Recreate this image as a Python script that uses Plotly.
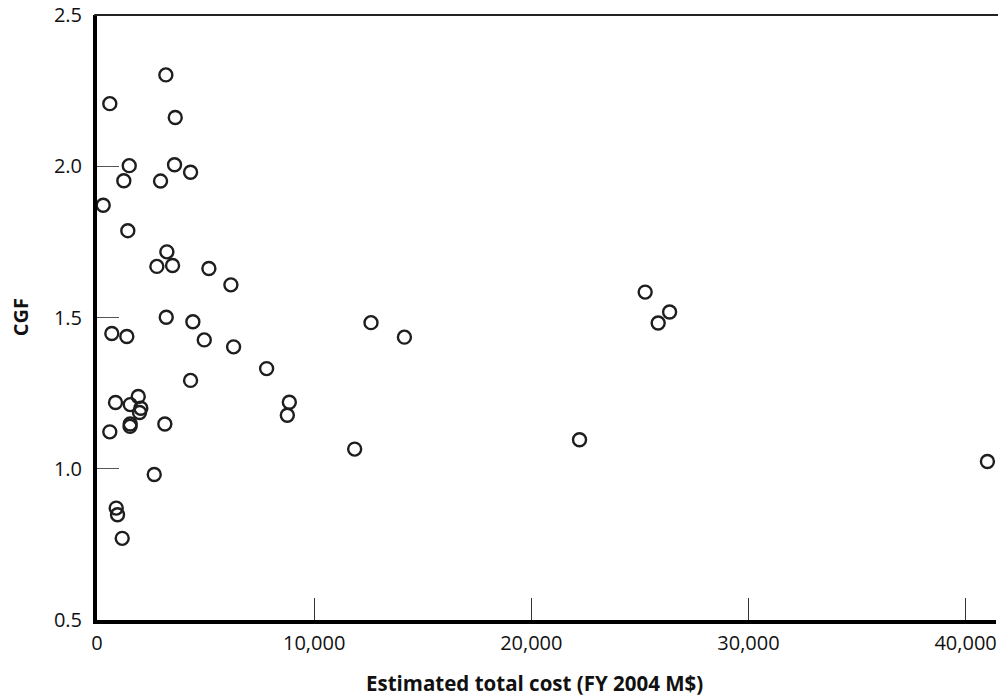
import plotly.graph_objects as go

# Estimated total cost (FY 2004 M$)
cost = [3171, 590, 3604, 1484, 3571, 4309, 1235, 2926, 286, 1419,
        3217, 2756, 3479, 5152, 6166, 3189, 4415, 682, 1373, 4940,
        6290, 7811, 4309, 1899, 853, 1530, 2018, 1959, 8857, 8765,
        1530, 1521, 3124, 590, 2636, 885, 945, 1161, 12618, 14157,
        11866, 25244, 26369, 25843, 22221, 41005]
# Cost growth factor
cgf = [2.302, 2.207, 2.161, 2.002, 2.005, 1.980, 1.952, 1.951, 1.871, 1.787,
       1.717, 1.669, 1.672, 1.662, 1.608, 1.501, 1.486, 1.447, 1.437, 1.426,
       1.403, 1.331, 1.292, 1.239, 1.219, 1.212, 1.200, 1.186, 1.220, 1.177,
       1.148, 1.140, 1.148, 1.122, 0.981, 0.870, 0.848, 0.770, 1.483, 1.435,
       1.065, 1.584, 1.518, 1.482, 1.096, 1.024]

x_ticks = [0, 10000, 20000, 30000, 40000]
x_tick_labels = ["0", "10,000", "20,000", "30,000", "40,000"]
y_ticks = [0.5, 1.0, 1.5, 2.0, 2.5]
y_tick_labels = ["0.5", "1.0", "1.5", "2.0", "2.5"]

FONT = "Open Sans"
L, R, T, B = 97, 2, 15, 80
PW = 998 - L - R
PH = 700 - T - B

fig = go.Figure()
fig.add_trace(go.Scatter(
    x=cost, y=cgf, mode="markers",
    marker=dict(symbol="circle-open", size=13, color="#1e1e1e",
                line=dict(width=2.4, color="#1e1e1e")),
    hoverinfo="x+y", showlegend=False, cliponaxis=False,
))

fig.update_layout(
    width=998, height=700,
    margin=dict(l=L, r=R, t=T, b=B),
    paper_bgcolor="white", plot_bgcolor="white",
    font=dict(family=FONT, color="#111", size=20),
    xaxis=dict(
        range=[0, 41400], tickvals=x_ticks, ticktext=x_tick_labels,
        ticks="inside", ticklen=22, tickwidth=1, tickcolor="#333",
        showline=True, linewidth=4, linecolor="black",
        showgrid=False, zeroline=False, ticklabelstandoff=2,
        tickfont=dict(size=20, family=FONT, color="#111"),
    ),
    yaxis=dict(
        range=[0.5, 2.5], tickvals=y_ticks, ticktext=y_tick_labels,
        ticks="inside", ticklen=22, tickwidth=1, tickcolor="#555",
        showline=True, linewidth=4, linecolor="black",
        showgrid=False, zeroline=False, ticklabelstandoff=7,
        tickfont=dict(size=20, family=FONT, color="#111"),
    ),
    shapes=[dict(type="line", xref="paper", yref="paper", x0=-0.003, x1=1.01, y0=1, y1=1,
                 line=dict(color="#222", width=2))],
    annotations=[
        dict(text="<b>Estimated total cost (FY 2004 M$)</b>", xref="paper", yref="paper",
             x=(534.5 - L) / PW, y=(620 - 683) / PH, xanchor="center", yanchor="middle",
             showarrow=False, font=dict(size=20.5, family=FONT, color="#111")),
        dict(text="<b>CGF</b>", xref="paper", yref="paper", textangle=-90,
             x=(20.7 - L) / PW, y=0.5, xanchor="center", yanchor="middle",
             showarrow=False, font=dict(size=20, family=FONT, color="#111")),
    ],
)

fig.write_html("out.html", config={"displayModeBar": False},
               post_script="document.body.style.margin='0px';document.body.style.overflow='hidden';")
